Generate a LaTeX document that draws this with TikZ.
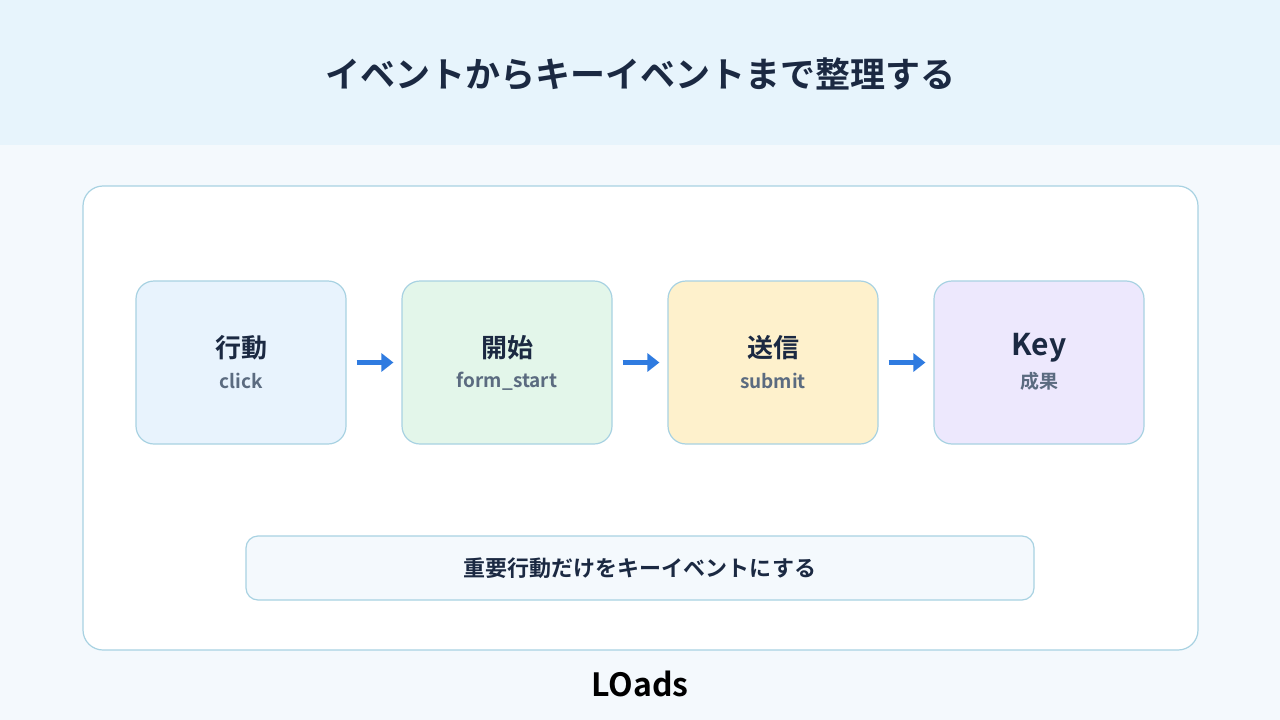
\documentclass[tikz,border=0pt]{standalone}
\usepackage{fontspec}
\setmainfont{Noto Sans CJK JP}[BoldFont={Noto Sans CJK JP Bold}]
\usetikzlibrary{arrows.meta}
\definecolor{navy}{HTML}{1B2942}
\definecolor{subgray}{HTML}{5B6B80}
\definecolor{edge}{HTML}{A8D2E2}
\definecolor{bandtop}{HTML}{E7F4FC}
\definecolor{bandbot}{HTML}{F4F9FD}
\definecolor{arrowblue}{HTML}{2F7BE0}
\begin{document}
\begin{tikzpicture}[x=1pt,y=-1pt,
			stage/.style={
				rectangle,
				rounded corners = 18pt,
				draw = edge,
				line width = 1.2pt,
				minimum width = 210pt,
				minimum height = 163pt,
				inner sep = 0pt},
			flow/.style={-{Triangle[length=12pt,width=18pt]},
				line width = 5pt,
				color = arrowblue,
				shorten <= 10pt, shorten >= 8pt}]
			\fill[bandbot] (0, 0) rectangle (1280, 720);
			\fill[bandtop] (0, 0) rectangle (1280, 145);
			\node (title) at (640, 74) {\fontsize{35}{40}\selectfont\bfseries\color{navy}イベントからキーイベントまで整理する};
			\draw[edge, line width=1.2pt, fill=white, rounded corners=20pt] (83, 186) rectangle (1198, 650);
			\foreach \name/\x/\fillc/\head/\size in {
				act/241/E8F3FD/行動/26,
				start/507/E3F6EA/開始/26,
				send/773/FEF1CC/送信/26,
				key/1039/EDE8FD/Key/30}
			{
				\definecolor{boxfill}{HTML}{\fillc}
				\node[stage, fill=boxfill] (\name) at (\x, 362.5) {};
				\node (\name-head) at (\x, 348) {\fontsize{\size}{32}\selectfont\bfseries\color{navy}\head};
			}
			\foreach \name/\sub in {act/click, start/form\_start, send/submit, key/成果}
				\node (\name-sub) at ([yshift=-18.5pt]\name) {\fontsize{19}{22}\selectfont\bfseries\color{subgray}\sub};
			\draw[flow] (act) -- (start);
			\draw[flow] (start) -- (send);
			\draw[flow] (send) -- (key);
			\node[rectangle, rounded corners=12pt, draw=edge, line width=1.2pt, fill=bandbot,
				minimum width=788pt, minimum height=64pt] (note) at (640, 568)
				{\fontsize{22}{26}\selectfont\bfseries\color{navy}重要行動だけをキーイベントにする};
			\node (logo) at (640, 684) {\fontsize{32}{36}\selectfont\bfseries LOads};
			\end{tikzpicture}
\end{document}
